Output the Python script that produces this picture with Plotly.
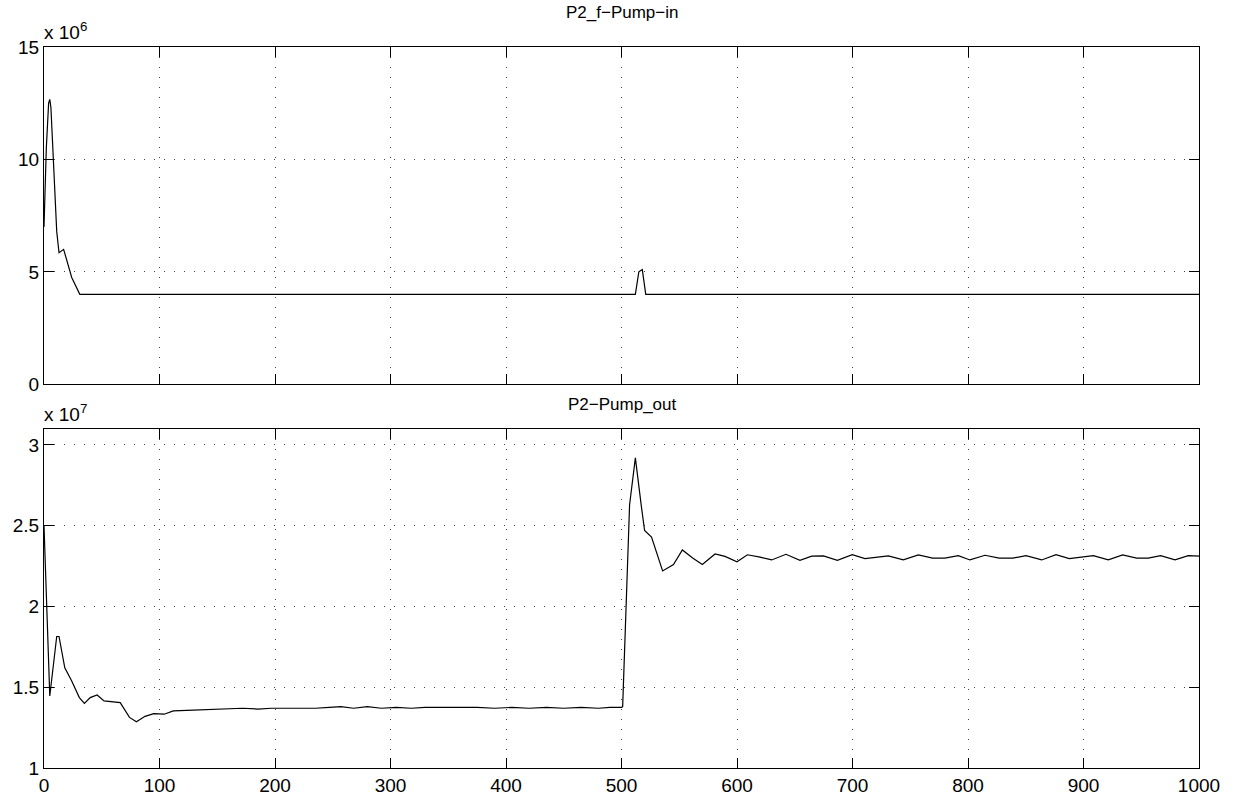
import plotly.graph_objects as go
from plotly.subplots import make_subplots

# ---- data (top: units of 1e6, bottom: units of 1e7) ----
t_in = [0, 2, 4, 5, 6, 8, 11, 13, 17, 24, 31, 512, 515, 518, 521, 1000]
p_in = [7.0, 10.5, 12.5, 12.67, 12.3, 10.0, 6.8, 5.85, 6.0, 4.75, 4.0, 4.0, 5.0, 5.1, 4.0, 4.0]

t_out = [0, 5, 11, 13, 18, 24, 30.6, 35, 40, 46, 52, 66, 74, 80, 87.5, 95, 104, 112, 123.5,
         135, 147, 160, 172, 185, 197, 210, 222, 235, 247, 257, 268, 280, 292, 305, 318, 330,
         345, 360, 375, 390, 405, 420, 435, 450, 465, 480, 490, 500,
         501, 507, 512, 517, 520, 526, 535.6, 545, 552.7, 561.6, 570, 581, 589.6, 600, 609,
         620, 630, 642.4, 654.5, 664.7, 674.8, 686.9, 699.8, 710.8, 731, 744, 757, 769.4, 780,
         791.6, 801.7, 814.7, 827, 838.7, 850.2, 863.8, 876.2, 887.7, 899.8, 908.5, 921.5,
         933.9, 946, 956.1, 966.8, 979.2, 990.7, 1000]
p_out = [2.5, 1.446, 1.814, 1.814, 1.62, 1.538, 1.436, 1.40, 1.436, 1.452, 1.415, 1.405, 1.313,
         1.286, 1.32, 1.337, 1.333, 1.354, 1.357,
         1.36, 1.365, 1.365, 1.37, 1.365, 1.37, 1.37, 1.37, 1.37, 1.375, 1.38, 1.37, 1.38, 1.37,
         1.375, 1.37, 1.375, 1.375, 1.375, 1.375, 1.37, 1.375, 1.37, 1.375, 1.37, 1.375, 1.37,
         1.375, 1.375,
         1.38, 2.63, 2.92, 2.63, 2.47, 2.43, 2.22, 2.26, 2.35, 2.30, 2.26, 2.325, 2.31, 2.277,
         2.32, 2.305, 2.288, 2.323, 2.286, 2.311, 2.313, 2.286, 2.321, 2.296, 2.313, 2.288,
         2.319, 2.299, 2.299, 2.315, 2.288, 2.317, 2.299, 2.299, 2.315, 2.288, 2.321, 2.296,
         2.307, 2.315, 2.288, 2.319, 2.299, 2.299, 2.315, 2.288, 2.315, 2.311]

x_ticks = [0, 100, 200, 300, 400, 500, 600, 700, 800, 900, 1000]
top_yticks = [0, 5, 10, 15]
bot_yticks = [1, 1.5, 2, 2.5, 3]
bot_yticktext = ["1", "1.5", "2", "2.5", "3"]

FONT = "Liberation Sans, Arial, Helvetica, sans-serif"

fig = make_subplots(rows=2, cols=1, vertical_spacing=0.0)
fig.add_trace(go.Scatter(x=t_in, y=p_in, mode="lines",
                         line=dict(color="black", width=1.2), showlegend=False), row=1, col=1)
fig.add_trace(go.Scatter(x=t_out, y=p_out, mode="lines",
                         line=dict(color="black", width=1.2), showlegend=False), row=2, col=1)

axis_common = dict(showline=True, linecolor="black", linewidth=1, mirror="allticks",
                   ticks="inside", ticklen=10, tickcolor="black", tickwidth=1,
                   showgrid=True, gridcolor="#444444", griddash="1px,9px", gridwidth=1,
                   zeroline=False, tickfont=dict(family=FONT, size=19, color="black"))

fig.update_xaxes(**axis_common, range=[0, 1000], tickvals=x_ticks)
fig.update_xaxes(showticklabels=False, row=1, col=1)
fig.update_yaxes(**axis_common)
fig.update_yaxes(range=[0, 15], tickvals=top_yticks, row=1, col=1)
fig.update_yaxes(range=[1, 3.1], tickvals=bot_yticks, ticktext=bot_yticktext, row=2, col=1)

fig.update_layout(
    width=1234, height=808,
    margin=dict(l=44, r=35, t=47, b=32),
    plot_bgcolor="white", paper_bgcolor="white",
    font=dict(family=FONT, size=19, color="black"),
    xaxis=dict(domain=[0, 1]), xaxis2=dict(domain=[0, 1]),
    yaxis=dict(domain=[0.5322, 1.0]), yaxis2=dict(domain=[0.0, 0.4705]),
    annotations=[
        dict(text="P2_f\u2212Pump\u2212in", x=0.5, y=1.0, xref="paper", yref="paper",
             xanchor="center", yanchor="middle", yshift=35, showarrow=False,
             font=dict(family=FONT, size=17)),
        dict(text="P2\u2212Pump_out", x=0.5, y=0.4705, xref="paper", yref="paper",
             xanchor="center", yanchor="middle", yshift=24, showarrow=False,
             font=dict(family=FONT, size=17)),
        dict(text="x 10<sup>6</sup>", x=0, y=1.0, xref="paper", yref="paper",
             xanchor="left", yanchor="bottom", yshift=2, xshift=-2, showarrow=False,
             font=dict(family=FONT, size=19)),
        dict(text="x 10<sup>7</sup>", x=0, y=0.4705, xref="paper", yref="paper",
             xanchor="left", yanchor="bottom", yshift=2, xshift=-2, showarrow=False,
             font=dict(family=FONT, size=19)),
    ],
)

fig.write_html("out.html")
